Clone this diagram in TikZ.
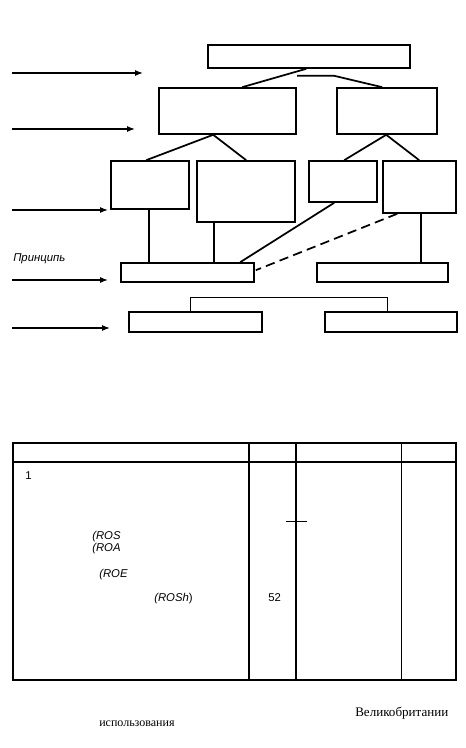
\documentclass[tikz,border=0pt]{standalone}
\usepackage{fontspec}
\setmainfont{Liberation Serif}
\setsansfont{Liberation Sans}
\usetikzlibrary{fit,calc,arrows.meta}
\begin{document}
\begin{tikzpicture}[x=0.75pt,y=-0.75pt,
  box/.style={draw,line width=1.2pt,inner sep=0pt},
  conn/.style={line width=1.3pt},
  levelarrow/.style={line width=0.9pt,-{Latex[length=6pt,width=4.5pt]}},
  lbl/.style={font=\sffamily\itshape\fontsize{8.5}{10}\selectfont,inner sep=0pt,anchor=base west},
  num/.style={font=\sffamily\fontsize{8.5}{10}\selectfont,inner sep=0pt,anchor=base west},
  captext/.style={font=\rmfamily\fontsize{9.8}{11}\selectfont,inner sep=0pt,anchor=base west}]
\useasboundingbox (0,0) rectangle (465,748);
% level boxes
\node[box,fit={(208,45) (410,68)}] (t) {};
\node[box,fit={(159,88) (296,134)}] (l2a) {};
\node[box,fit={(337,88) (437,134)}] (l2b) {};
\node[box,fit={(111,161) (189,209)}] (l3a) {};
\node[box,fit={(197,161) (295,222)}] (l3b) {};
\node[box,fit={(309,161) (377,202)}] (l3c) {};
\node[box,fit={(383,161) (456,213)}] (l3d) {};
\node[box,fit={(121,263) (254,282)}] (l4a) {};
\node[box,fit={(317,263) (448,282)}] (l4b) {};
\node[box,fit={(129,312) (262,332)}] (l5a) {};
\node[box,fit={(325,312) (457,332)}] (l5b) {};
% connectors
\draw[conn] ($(t.south west)+(99,0)$) -- ($(l2a.north west)+(84,0)$);
\draw[conn] ($(t.south west)+(90,7)$) -- ($(t.south west)+(127,7)$) -- ($(l2b.north west)+(46,0)$);
\draw[conn] ($(l2a.south west)+(55,0)$) -- ($(l3a.north west)+(36,0)$);
\draw[conn] ($(l2a.south west)+(55,0)$) -- ($(l3b.north west)+(50,0)$);
\draw[conn] ($(l2b.south west)+(50,0)$) -- ($(l3c.north west)+(36,0)$);
\draw[conn] ($(l2b.south west)+(50,0)$) -- ($(l3d.north west)+(37,0)$);
\draw[conn] ($(l3a.south west)+(39,0)$) -- ($(l4a.north west)+(29,0)$);
\draw[conn] ($(l3b.south west)+(18,0)$) -- ($(l4a.north west)+(94,0)$);
\draw[conn] ($(l3d.south west)+(39,0)$) -- ($(l4b.north west)+(105,0)$);
\draw[conn] ($(l3c.south west)+(26,0)$) -- ($(l4a.north west)+(120,0)$);
\draw[conn,dash pattern=on 7pt off 4pt] ($(l3d.south west)+(15,0)$) -- ($(l4a.north east)+(1,8)$);
\draw[line width=1pt] ($(l5a.north west)+(62,0)$) -- ($(l5a.north west)+(62,-14)$) -- ($(l5b.north west)+(63,-14)$) -- ($(l5b.north west)+(63,0)$);
% level arrows
\coordinate (a1s) at (12,73);  \coordinate (a1e) at (143,73);
\coordinate (a2s) at (12,129); \coordinate (a2e) at (135,129);
\coordinate (a3s) at (12,210); \coordinate (a3e) at (108,210);
\coordinate (a4s) at (12,280); \coordinate (a4e) at (108,280);
\coordinate (a5s) at (12,328); \coordinate (a5e) at (110,328);
\draw[levelarrow] (a1s) -- (a1e);
\draw[levelarrow] (a2s) -- (a2e);
\draw[levelarrow] (a3s) -- (a3e);
\draw[levelarrow] (a4s) -- (a4e);
\draw[levelarrow] (a5s) -- (a5e);
\node[lbl] (princ) at (13,262) {Принципь};
% table
\node[box,fit={(13,443) (456,680)}] (tab) {};
\draw[conn] ($(tab.north west)+(0,20)$) -- ($(tab.north east)+(0,20)$);
\draw[conn] ($(tab.north west)+(237,0)$) -- ($(tab.south west)+(237,0)$);
\draw[conn] ($(tab.north west)+(284,0)$) -- ($(tab.south west)+(284,0)$);
\draw[line width=0.9pt] ($(tab.north west)+(389,0)$) -- ($(tab.south west)+(389,0)$);
\draw[line width=0.6pt] ($(tab.north west)+(274,79)$) -- ($(tab.north west)+(295,79)$);
\node[num] (n1) at (25,479) {1};
\node[lbl] (ros) at (92,539) {(ROS};
\node[lbl] (roa) at (92,551) {(ROA};
\node[lbl] (roe) at (99,577) {(ROE};
\node[lbl] (rosh) at (154,601) {(ROSh\/\upshape)};
\node[num] (n52) at (268,601) {52};
\node[captext] (vel) at (355,716) {Великобритании};
\node[captext,font=\rmfamily\fontsize{9}{10}\selectfont] (isp) at (99,726) {использования};
\end{tikzpicture}
\end{document}
